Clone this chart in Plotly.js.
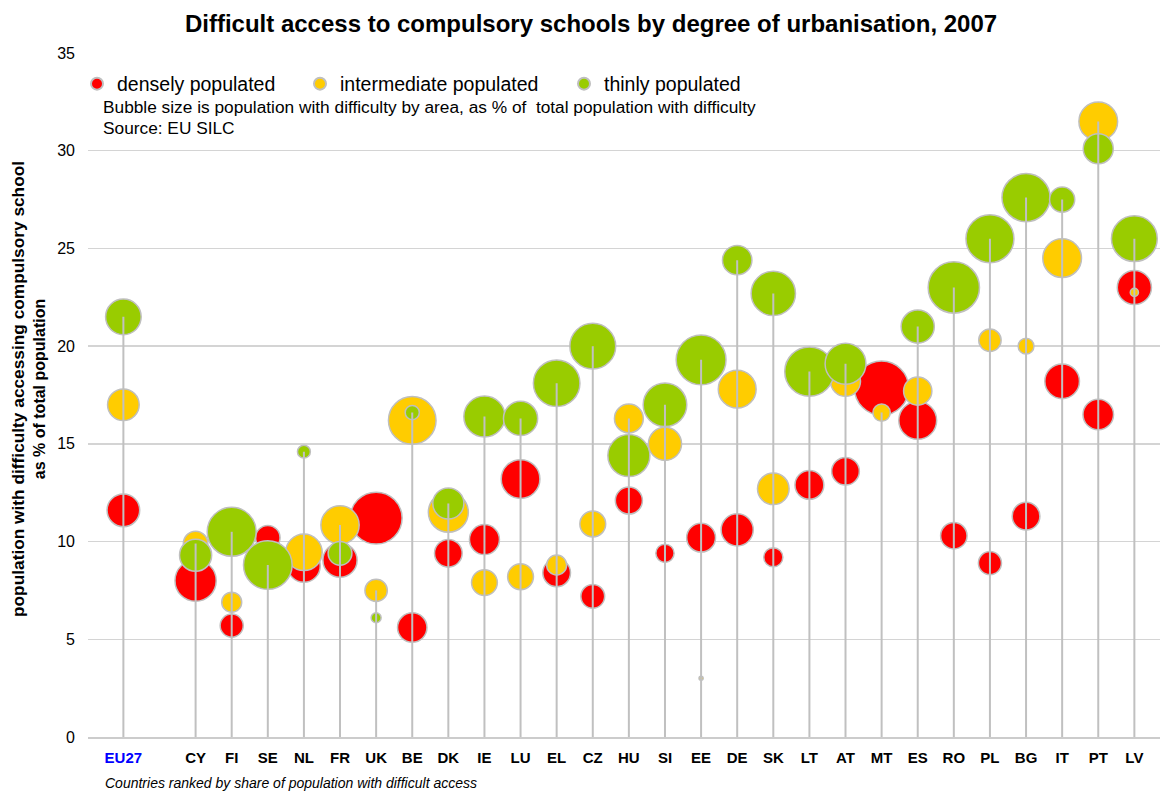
<!DOCTYPE html>
<html>
<head>
<meta charset="utf-8">
<script src="https://cdn.plot.ly/plotly-3.0.1.min.js"></script>
<style>html,body{margin:0;padding:0;background:#fff;}#chart{width:1169px;height:791px;}</style>
</head>
<body>
<div id="chart"></div>
<script>
// Categories (countries ranked by share of population with difficult access)
const categories = ['EU27','CY','FI','SE','NL','FR','UK','BE','DK','IE','LU','EL','CZ','HU','SI','EE','DE','SK','LT','AT','MT','ES','RO','PL','BG','IT','PT','LV'];

// % of total population with difficulty accessing compulsory school, by area type
const denseValues = [11.6, 8.0, 5.7, 10.2, 8.75, 9.05, 11.2, 5.6, 9.4, 10.1, 13.2, 8.4, 7.2, 12.1, 9.4, 10.2, 10.6, 9.2, 12.9, 13.6, 17.85, 16.2, 10.3, 8.9, 11.3, 18.2, 16.5, 23.0];
const interValues = [17.0, 9.9, 6.9, 8.6, 9.45, 10.85, 7.5, 16.2, 11.5, 7.9, 8.2, 8.8, 10.9, 16.3, 15.0, 3.0, 17.8, 12.7, 18.6, 18.2, 16.6, 17.7, null, 20.3, 20.0, 24.5, 31.5, 22.75];
const thinValues  = [21.5, 9.3, 10.5, 8.8, 14.6, 9.4, 6.1, 16.6, 11.95, 16.4, 16.3, 18.1, 20.0, 14.4, 17.0, 19.3, 24.4, 22.7, 18.7, 19.1, null, 21.0, 23.0, 25.5, 27.6, 27.5, 30.1, 25.5];

// Bubble size: population with difficulty by area, as % of total population with difficulty
const denseShare = [32, 51, 16, 18, 32, 35, 81, 26, 23, 27, 45, 23, 17, 22, 10, 25, 31, 11, 25, 23, 88, 43, 21, 16, 23, 36, 28, 35];
const interShare = [30, 18, 12, 10, 40, 44, 15, 68, 48, 20, 20, 12, 20, 25, 33, 0.5, 43, 30, 2.5, 27, 9, 24, null, 15, 7.5, 45, 45, 2];
const thinShare  = [38, 31, 72, 71, 5, 17, 3, 6, 29, 51, 35, 65, 63, 53, 57, 74.5, 26, 59, 73, 50, null, 33, 79, 69, 69.5, 19, 27, 63];

const seriesNames = ['densely populated', 'intermediate populated', 'thinly populated'];
const seriesColors = ['#ff0000', '#ffcc00', '#99cc00'];
const legendIds = ['legend', 'legend2', 'legend3'];

// x positions: one empty slot after EU27
const xPos = categories.map((c, i) => i === 0 ? 0 : i + 1);
const tickText = categories.map((c, i) => i === 0 ? '<b><span style="color:#0000ff">' + c + '</span></b>' : '<b>' + c + '</b>');

const FONT = 'Liberation Sans, Arial, sans-serif';
const SIZEREF = 0.06;

function bubbleTrace(vals, shares, idx) {
  return {
    type: 'scatter', mode: 'markers', name: seriesNames[idx], legend: legendIds[idx],
    x: xPos, y: vals,
    marker: { color: seriesColors[idx], size: shares, sizemode: 'area', sizeref: SIZEREF, sizemin: 2,
              line: { color: '#bfbfbf', width: 1.5 }, opacity: 1 },
    hoverinfo: 'skip'
  };
}

// drop lines from the highest intermediate/thin point down to the axis
const lx = [], ly = [];
categories.forEach((c, i) => {
  const cands = [interValues[i], thinValues[i]].filter(v => v !== null && v !== undefined);
  const top = Math.max.apply(null, cands);
  lx.push(xPos[i], xPos[i], null);
  ly.push(top, 0, null);
});

const data = [
  bubbleTrace(denseValues, denseShare, 0),
  bubbleTrace(interValues, interShare, 1),
  bubbleTrace(thinValues, thinShare, 2),
  { type: 'scatter', mode: 'lines', x: lx, y: ly, showlegend: false, hoverinfo: 'skip',
    line: { color: '#c0c0c0', width: 2 } }
];

function legendAt(leftPx) {
  return {
    orientation: 'h', xref: 'paper', yref: 'paper',
    x: (leftPx - 88) / 1072, xanchor: 'left', y: (737 - 84) / 684, yanchor: 'middle',
    bgcolor: 'rgba(0,0,0,0)', borderwidth: 0, itemsizing: 'constant',
    font: { family: FONT, size: 19.5, color: '#000000' }
  };
}

const layout = {
  width: 1169, height: 791,
  margin: { l: 88, r: 9, t: 53, b: 54 },
  paper_bgcolor: '#ffffff', plot_bgcolor: '#ffffff',
  font: { family: FONT, color: '#000000' },
  showlegend: true,
  hovermode: false,
  title: { text: '<b>Difficult access to compulsory schools by degree of urbanisation, 2007</b>',
           font: { family: FONT, size: 24, color: '#000000' },
           x: 0.5056, xanchor: 'center', y: 0.9697, yanchor: 'middle' },
  xaxis: {
    range: [-0.98, 28.71], tickmode: 'array', tickvals: xPos, ticktext: tickText,
    showgrid: false, zeroline: false, showline: true, linecolor: '#cccccc', linewidth: 1.5,
    ticks: '', ticklabelstandoff: 6,
    tickfont: { family: FONT, size: 15, color: '#000000' }
  },
  yaxis: {
    range: [0, 35], dtick: 5, tick0: 0,
    showgrid: true, gridcolor: '#d4d4d4', gridwidth: 1.5,
    zeroline: false, showline: false, ticks: '', ticklabelstandoff: 12,
    tickfont: { family: FONT, size: 16, color: '#000000' }
  },
  legend: legendAt(77),
  legend2: legendAt(300),
  legend3: legendAt(564),
  annotations: [
    { text: 'Bubble size is population with difficulty by area, as % of  total population with difficulty',
      xref: 'paper', yref: 'paper', x: (101 - 88) / 1072, y: (737 - 107) / 684, xanchor: 'left', yanchor: 'middle',
      showarrow: false, font: { family: FONT, size: 17.3, color: '#000000' } },
    { text: 'Source: EU SILC',
      xref: 'paper', yref: 'paper', x: (101 - 88) / 1072, y: (737 - 128) / 684, xanchor: 'left', yanchor: 'middle',
      showarrow: false, font: { family: FONT, size: 17.3, color: '#000000' } },
    { text: '<i>Countries ranked by share of population with difficult access</i>',
      xref: 'paper', yref: 'paper', x: (103 - 88) / 1072, y: (737 - 783) / 684, xanchor: 'left', yanchor: 'middle',
      showarrow: false, font: { family: FONT, size: 14, color: '#000000' } },
    { text: '<b><span style="font-size:17.3px">population with difficulty accessing compulsory school</span><br>as % of total population</b>',
      xref: 'paper', yref: 'paper', x: (28 - 88) / 1072, y: (737 - 389) / 684, xanchor: 'center', yanchor: 'middle',
      textangle: -90, showarrow: false, font: { family: FONT, size: 16, color: '#000000' } }
  ]
};

Plotly.newPlot('chart', data, layout, { displayModeBar: false, staticPlot: true });
</script>
</body>
</html>
